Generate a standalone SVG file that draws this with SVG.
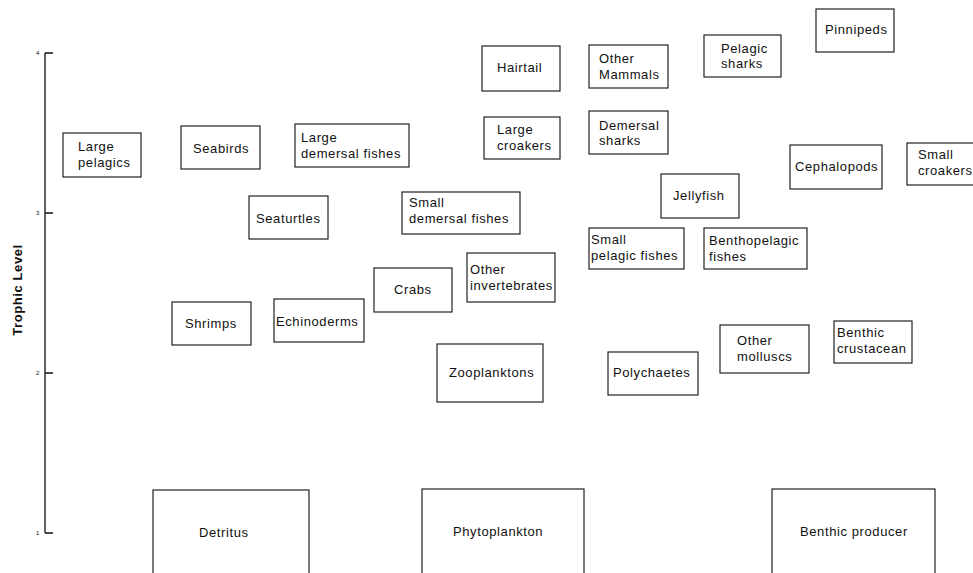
<svg xmlns="http://www.w3.org/2000/svg" width="973" height="573" viewBox="0 0 973 573">
<style>
.box{fill:#fff;stroke:#222;stroke-width:1.2}
.t{font-family:"Liberation Sans",Arial,sans-serif;font-size:13px;letter-spacing:0.6px;fill:#111}
.ax{stroke:#111;stroke-width:1.3;fill:none}
.tk{font-family:"Liberation Sans",Arial,sans-serif;font-size:6px;fill:#111}
.yl{font-family:"Liberation Sans",Arial,sans-serif;font-size:13px;font-weight:bold;letter-spacing:0.6px;fill:#111}
</style>
<rect width="973" height="573" fill="#fff"/>
<g id="axis">
<path class="ax" d="M45,53 V533 M45,53 H53 M45,213 H53 M45,373 H53 M45,533 H53"/>
<text class="tk" x="36" y="55">4</text>
<text class="tk" x="36" y="215">3</text>
<text class="tk" x="36" y="375">2</text>
<text class="tk" x="36" y="535">1</text>
<text class="yl" transform="translate(22,290) rotate(-90)" text-anchor="middle">Trophic Level</text>
</g>
<g id="connectors"></g>
<g id="large-pelagics"><rect class="box" x="63" y="133" width="78" height="44"/><text class="t" x="78" y="151">Large</text><text class="t" x="78" y="167">pelagics</text></g>
<g id="seabirds"><rect class="box" x="181" y="126" width="79" height="43"/><text class="t" x="193" y="153">Seabirds</text></g>
<g id="large-demersal"><rect class="box" x="295" y="124" width="114" height="43"/><text class="t" x="301" y="142">Large</text><text class="t" x="301" y="158">demersal fishes</text></g>
<g id="seaturtles"><rect class="box" x="249" y="196" width="79" height="43"/><text class="t" x="256" y="223">Seaturtles</text></g>
<g id="shrimps"><rect class="box" x="172" y="302" width="79" height="43"/><text class="t" x="185" y="328">Shrimps</text></g>
<g id="echinoderms"><rect class="box" x="274" y="299" width="90" height="43"/><text class="t" x="276" y="326">Echinoderms</text></g>
<g id="detritus"><rect class="box" x="153" y="490" width="156" height="90"/><text class="t" x="199" y="537">Detritus</text></g>
<g id="hairtail"><rect class="box" x="482" y="46" width="78" height="45"/><text class="t" x="497" y="72">Hairtail</text></g>
<g id="large-croakers"><rect class="box" x="484" y="117" width="76" height="42"/><text class="t" x="497" y="134">Large</text><text class="t" x="497" y="150">croakers</text></g>
<g id="other-mammals"><rect class="box" x="589" y="45" width="79" height="43"/><text class="t" x="599" y="63">Other</text><text class="t" x="599" y="79">Mammals</text></g>
<g id="demersal-sharks"><rect class="box" x="589" y="111" width="79" height="43"/><text class="t" x="599" y="130">Demersal</text><text class="t" x="599" y="145">sharks</text></g>
<g id="small-demersal"><rect class="box" x="402" y="192" width="118" height="42"/><text class="t" x="409" y="207">Small</text><text class="t" x="409" y="223">demersal fishes</text></g>
<g id="other-invertebrates"><rect class="box" x="467" y="253" width="88" height="49"/><text class="t" x="470" y="274">Other</text><text class="t" x="470" y="290">invertebrates</text></g>
<g id="crabs"><rect class="box" x="374" y="268" width="78" height="44"/><text class="t" x="394" y="294">Crabs</text></g>
<g id="zooplanktons"><rect class="box" x="437" y="344" width="106" height="58"/><text class="t" x="449" y="377">Zooplanktons</text></g>
<g id="phytoplankton"><rect class="box" x="422" y="489" width="162" height="91"/><text class="t" x="453" y="536">Phytoplankton</text></g>
<g id="polychaetes"><rect class="box" x="608" y="352" width="90" height="43"/><text class="t" x="613" y="377">Polychaetes</text></g>
<g id="small-pelagic"><rect class="box" x="589" y="228" width="95" height="41"/><text class="t" x="591" y="244">Small</text><text class="t" x="591" y="260">pelagic fishes</text></g>
<g id="pinnipeds"><rect class="box" x="816" y="9" width="78" height="43"/><text class="t" x="825" y="34">Pinnipeds</text></g>
<g id="pelagic-sharks"><rect class="box" x="704" y="35" width="77" height="42"/><text class="t" x="721" y="53">Pelagic</text><text class="t" x="721" y="68">sharks</text></g>
<g id="cephalopods"><rect class="box" x="790" y="145" width="92" height="44"/><text class="t" x="795" y="171">Cephalopods</text></g>
<g id="small-croakers"><rect class="box" x="907" y="143" width="80" height="42"/><text class="t" x="918" y="159">Small</text><text class="t" x="918" y="175">croakers</text></g>
<g id="jellyfish"><rect class="box" x="661" y="174" width="78" height="44"/><text class="t" x="673" y="200">Jellyfish</text></g>
<g id="benthopelagic"><rect class="box" x="704" y="228" width="103" height="41"/><text class="t" x="709" y="245">Benthopelagic</text><text class="t" x="709" y="261">fishes</text></g>
<g id="other-molluscs"><rect class="box" x="720" y="325" width="89" height="48"/><text class="t" x="737" y="345">Other</text><text class="t" x="737" y="361">molluscs</text></g>
<g id="benthic-crustacean"><rect class="box" x="834" y="321" width="78" height="42"/><text class="t" x="837" y="337">Benthic</text><text class="t" x="837" y="353">crustacean</text></g>
<g id="benthic-producer"><rect class="box" x="772" y="489" width="163" height="91"/><text class="t" x="800" y="536">Benthic producer</text></g>
</svg>
